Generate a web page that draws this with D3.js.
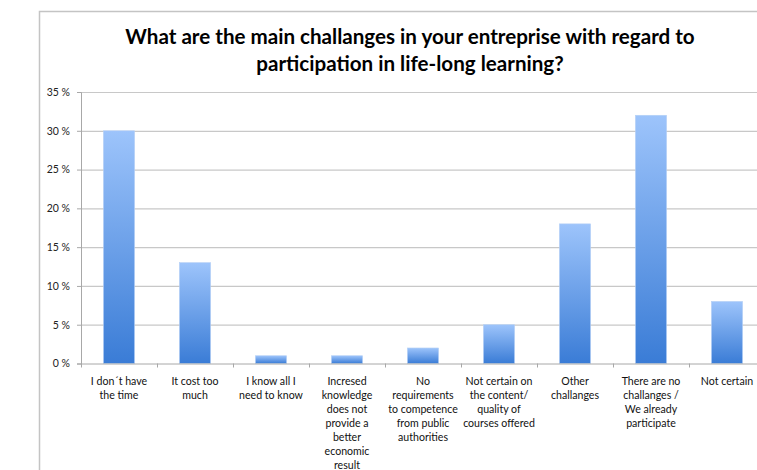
<!DOCTYPE html>
<html>
<head>
<meta charset="utf-8">
<script src="https://cdn.jsdelivr.net/npm/d3@7/dist/d3.min.js"></script>
<style>
  html, body { margin: 0; padding: 0; background: #fff; }
  svg { display: block; }
</style>
</head>
<body>
<svg id="chart" width="757" height="470"></svg>
<script>
const titleLines = ["What are the main challanges in your entreprise with regard to", "participation in life-long learning?"];
const categories = [
  ["I don´t have", "the time"],
  ["It cost too", "much"],
  ["I know all I", "need to know"],
  ["Incresed", "knowledge", "does not", "provide a", "better", "economic", "result"],
  ["No", "requirements", "to competence", "from public", "authorities"],
  ["Not certain on", "the content/", "quality of", "courses offered"],
  ["Other", "challanges"],
  ["There are no", "challanges /", "We already", "participate"],
  ["Not certain"]
];
const values = [30, 13, 1, 1, 2, 5, 18, 32, 8];
const yTicks = [0, 5, 10, 15, 20, 25, 30, 35];

const svg = d3.select("#chart");
const font = "Lato, 'Open Sans', sans-serif";

// frame
svg.append("rect").attr("x", 39.5).attr("y", 11.5).attr("width", 800).attr("height", 600)
  .attr("fill", "#fff").attr("stroke", "#c4c4c4").attr("stroke-width", 1.5);

// title
svg.append("g").selectAll("text").data(titleLines).join("text")
  .attr("x", 410).attr("y", (d, i) => 44 + i * 27)
  .attr("text-anchor", "middle")
  .attr("font-family", font).attr("font-weight", "bold").attr("font-size", 20.6)
  .attr("fill", "#000").text(d => d);

const x0 = 81, yTop = 92, yBot = 363.5;
const x = d3.scaleBand().domain(d3.range(categories.length)).range([x0, x0 + 76 * categories.length]).paddingInner(0.59).paddingOuter(0.295);
const y = d3.scaleLinear().domain([0, 35]).range([yBot, yTop]);

const defs = svg.append("defs");
const grad = defs.append("linearGradient").attr("id", "barGrad").attr("x1", 0).attr("y1", 0).attr("x2", 0).attr("y2", 1);
grad.append("stop").attr("offset", "0%").attr("stop-color", "#9dc4fb");
grad.append("stop").attr("offset", "100%").attr("stop-color", "#3a7cd6");

// gridlines
svg.append("g").selectAll("line").data(yTicks.filter(t => t > 0)).join("line")
  .attr("x1", x0).attr("x2", 800).attr("y1", d => y(d) + 0.5).attr("y2", d => y(d) + 0.5)
  .attr("stroke", "#c8c8c8").attr("stroke-width", 1.2);

// y axis
const yAxis = svg.append("g").attr("transform", `translate(${x0},0)`)
  .call(d3.axisLeft(y).tickValues(yTicks).tickSize(4).tickPadding(7).tickFormat(d => d + " %"));
yAxis.select(".domain").attr("stroke", "#a8a8a8");
yAxis.selectAll(".tick line").attr("stroke", "#a8a8a8");
yAxis.selectAll("text").attr("font-family", font).attr("font-size", 10.5).attr("fill", "#222");

// bars
svg.append("g").selectAll("rect").data(values).join("rect")
  .attr("x", (d, i) => x(i)).attr("width", x.bandwidth())
  .attr("y", d => y(d)).attr("height", d => yBot - y(d))
  .attr("fill", "url(#barGrad)").attr("stroke", "#b5d0f5").attr("stroke-width", 0.6);

// x axis
const xStep = 76;
const xg = svg.append("g");
xg.append("line").attr("x1", x0).attr("x2", 800).attr("y1", yBot + 0.5).attr("y2", yBot + 0.5).attr("stroke", "#a8a8a8");
xg.selectAll("line.tk").data(d3.range(categories.length + 1)).join("line").attr("class", "tk")
  .attr("x1", i => x0 + i * xStep + 0.5).attr("x2", i => x0 + i * xStep + 0.5)
  .attr("y1", yBot).attr("y2", yBot + 4).attr("stroke", "#a8a8a8");

const labels = xg.selectAll("text.lab").data(categories).join("text").attr("class", "lab")
  .attr("text-anchor", "middle").attr("font-family", font).attr("font-size", 10.6).attr("fill", "#111");
labels.selectAll("tspan").data((d, i) => d.map(s => ({ s, i }))).join("tspan")
  .attr("x", d => x(d.i) + x.bandwidth() / 2)
  .attr("y", (d, j) => 385 + j * 14)
  .text(d => d.s);
</script>
</body>
</html>
